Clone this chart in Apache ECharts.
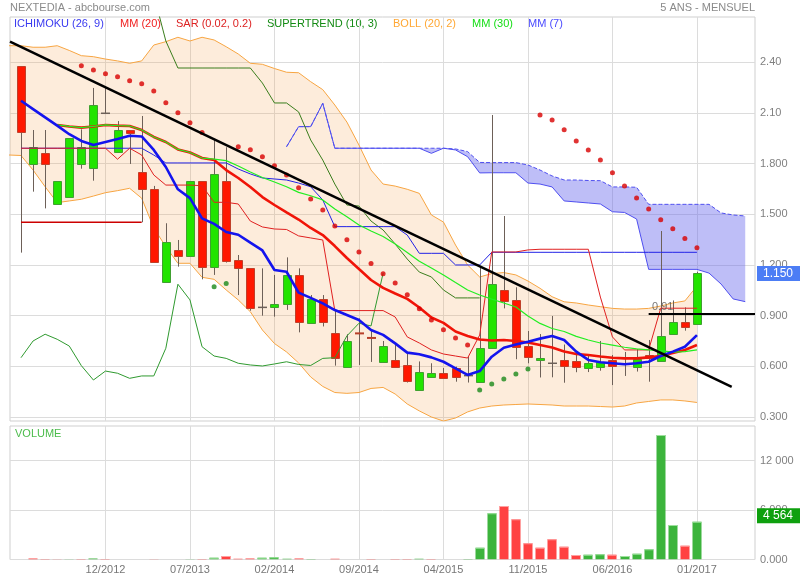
<!DOCTYPE html>
<html><head><meta charset="utf-8">
<script src="https://cdn.jsdelivr.net/npm/echarts@6/dist/echarts.min.js"></script>
<style>html,body{margin:0;padding:0;background:#fff}#c{width:800px;height:580px}</style>
</head><body><div id="c"></div><script>
// ---------------- DATA ----------------
const months = ['05/2012','06/2012','07/2012','08/2012','09/2012','10/2012','11/2012','12/2012',
'01/2013','02/2013','03/2013','04/2013','05/2013','06/2013','07/2013','08/2013','09/2013','10/2013','11/2013','12/2013',
'01/2014','02/2014','03/2014','04/2014','05/2014','06/2014','07/2014','08/2014','09/2014','10/2014','11/2014','12/2014',
'01/2015','02/2015','03/2015','04/2015','05/2015','06/2015','07/2015','08/2015','09/2015','10/2015','11/2015','12/2015',
'01/2016','02/2016','03/2016','04/2016','05/2016','06/2016','07/2016','08/2016','09/2016','10/2016','11/2016','12/2016',
'01/2017'];
const xTickLabels = ['12/2012','07/2013','02/2014','09/2014','04/2015','11/2015','06/2016','01/2017'];
const priceTicks = [0.3,0.6,0.9,1.2,1.5,1.8,2.1,2.4];
const priceTickLabels = ['0.300','0.600','0.900','1.200','1.500','1.800','2.10','2.40'];
const volTicks = [0,6000,12000];
const volTickLabels = ['0.000','6 000','12 000'];

const open = [2.378,1.796,1.861,1.559,1.601,1.796,1.776,2.098,1.867,1.999,
1.750,1.648,1.097,1.289,1.255,1.697,1.186,1.697,1.229,1.180,
0.949,0.949,0.969,1.139,0.858,0.997,0.797,0.598,0.795,0.768,
0.627,0.637,0.608,0.457,0.539,0.559,0.588,0.545,0.505,0.707,
1.052,0.993,0.720,0.636,0.618,0.637,0.632,0.588,0.598,0.637,
0.612,0.598,0.667,0.632,0.794,0.861,0.848];
const close = [1.985,1.897,1.796,1.695,1.950,1.897,2.147,2.098,1.999,1.983,
1.648,1.216,1.338,1.255,1.697,1.186,1.739,1.225,1.180,0.947,
0.949,0.969,1.139,0.861,0.997,0.864,0.648,0.750,0.791,0.764,
0.718,0.598,0.513,0.569,0.559,0.528,0.539,0.545,0.707,1.087,
0.988,0.716,0.657,0.649,0.618,0.604,0.598,0.618,0.627,0.604,
0.612,0.642,0.651,0.780,0.861,0.835,1.150];
const low = [1.273,1.634,1.535,1.559,1.601,1.770,1.699,2.098,1.867,1.798,
1.453,1.216,1.097,1.190,1.255,1.115,1.141,1.214,1.022,0.929,
0.900,0.894,0.934,0.801,0.851,0.836,0.604,0.598,0.608,0.626,
0.627,0.598,0.504,0.457,0.539,0.528,0.509,0.504,0.505,0.707,
0.943,0.642,0.618,0.534,0.535,0.503,0.565,0.566,0.574,0.489,
0.543,0.569,0.509,0.632,0.794,0.811,0.848];
const high = [2.378,1.999,1.999,1.695,1.950,2.003,2.248,2.248,2.052,1.999,
2.082,1.668,1.447,1.348,1.697,1.697,1.940,1.897,1.259,1.180,
1.180,1.141,1.245,1.180,1.022,1.022,0.934,0.790,0.884,0.815,
0.750,0.726,0.682,0.629,0.618,0.590,0.598,0.658,1.190,2.088,
1.490,1.068,0.809,0.791,0.898,0.729,0.667,0.661,0.750,0.667,
0.685,0.703,0.756,1.401,0.990,0.949,1.160];
const volume = [0,120,50,40,40,60,120,60,0,0,
0,40,0,0,40,60,200,420,80,120,
220,280,100,120,50,0,100,0,0,50,
0,50,60,100,60,0,0,50,1420,5600,
6480,4870,1960,1430,2450,1550,545,580,630,580,
420,700,1240,15090,4180,1670,4564];

const mm7 = [2.172,2.123,2.074,2.025,1.974,1.934,1.910,1.928,1.946,1.965,
1.961,1.881,1.780,1.648,1.596,1.476,1.443,1.395,1.379,1.332,
1.286,1.170,1.160,1.036,1.005,0.973,0.933,0.904,0.874,0.815,
0.786,0.736,0.681,0.671,0.653,0.627,0.588,0.549,0.572,0.657,
0.710,0.729,0.746,0.764,0.780,0.756,0.687,0.638,0.624,0.618,
0.612,0.618,0.627,0.661,0.687,0.716,0.785];
const mm20 = [null,null,null,2.029,2.020,2.013,2.020,2.029,2.025,2.023,
1.999,1.958,1.928,1.884,1.866,1.833,1.821,1.762,1.715,1.662,
1.602,1.555,1.511,1.469,1.419,1.377,1.312,1.241,1.176,1.111,
1.064,1.031,0.999,0.948,0.889,0.857,0.806,0.780,0.759,0.753,
0.756,0.750,0.741,0.726,0.711,0.688,0.673,0.667,0.658,0.651,
0.647,0.647,0.653,0.661,0.679,0.697,0.726];
const mm30 = [null,null,null,2.029,2.020,2.013,2.020,2.029,2.025,2.023,
1.999,1.958,1.928,1.884,1.866,1.833,1.827,1.818,1.786,1.750,
1.718,1.691,1.663,1.630,1.610,1.585,1.531,1.486,1.437,1.401,
1.369,1.324,1.274,1.222,1.182,1.141,1.096,1.052,1.022,0.998,
0.975,0.951,0.898,0.854,0.824,0.806,0.777,0.756,0.738,0.726,
0.713,0.703,0.697,0.693,0.684,0.687,0.697];
// Bollinger starts one month before the first candle (04/2012)
const bollFrom = -1;
const bollUpper = [2.498,2.498,2.489,2.489,2.498,2.470,2.439,2.433,2.419,2.408,2.394,
2.408,2.502,2.522,2.548,2.526,2.548,2.532,2.492,2.449,2.394,
2.388,2.363,2.341,2.338,2.285,2.238,2.147,2.046,1.910,1.762,
1.679,1.667,1.648,1.624,1.496,1.454,1.318,1.200,1.129,1.149,
1.155,1.141,1.105,1.062,1.012,0.982,0.975,0.963,0.953,0.943,
0.939,0.939,0.943,0.957,0.975,0.987,1.075];
const bollLower = [1.851,1.848,1.762,1.663,1.569,1.579,1.589,1.608,1.628,1.640,1.654,
1.595,1.419,1.308,1.210,1.210,1.127,1.115,1.052,0.993,0.923,
0.815,0.735,0.685,0.620,0.537,0.481,0.445,0.440,0.445,0.469,
0.475,0.436,0.377,0.336,0.300,0.276,0.294,0.330,0.353,0.365,
0.371,0.374,0.377,0.374,0.371,0.365,0.365,0.365,0.362,0.359,
0.365,0.383,0.392,0.401,0.401,0.395,0.386];
const sar = [null,null,null,null,null,2.380,2.354,2.332,2.315,2.291,
2.273,2.230,2.161,2.101,2.042,1.984,1.071,1.090,1.900,1.882,
1.841,1.788,1.733,1.657,1.591,1.525,1.431,1.350,1.277,1.208,
1.148,1.093,1.024,0.941,0.874,0.817,0.768,0.726,0.460,0.495,
0.525,0.555,0.584,2.088,2.058,2.001,1.934,1.881,1.821,1.746,
1.668,1.597,1.531,1.468,1.415,1.356,1.302];
const tenkan = [1.891,1.891,1.891,1.891,1.891,1.891,1.891,1.891,1.826,1.891,
1.851,1.733,1.673,1.673,1.673,1.669,1.571,1.571,1.561,1.460,
1.425,1.413,1.410,1.372,1.360,1.348,0.930,0.930,0.930,0.930,
0.930,0.892,0.774,0.738,0.697,0.673,0.661,0.649,0.785,1.277,
1.277,1.277,1.289,1.293,1.293,1.293,1.293,1.293,1.010,0.774,
0.697,0.697,0.697,0.944,0.944,0.944,0.944];
const kijun = [1.891,1.891,1.891,1.891,1.891,1.891,1.891,1.891,1.891,1.891,
1.891,1.851,1.804,1.804,1.804,1.804,1.804,1.804,1.768,1.739,
1.715,1.709,1.703,1.685,1.663,1.585,1.427,1.427,1.427,1.427,
1.427,1.427,1.377,1.269,1.269,1.269,1.200,1.200,1.200,1.275,
1.275,1.275,1.275,1.275,1.275,1.275,1.275,1.275,1.275,1.275,
1.275,1.275,1.275,1.275,1.275,1.275,1.275];
const chikou = [0.651,0.750,0.790,0.760,0.720,0.604,0.519,0.572,0.559,0.529,
0.543,0.543,0.707,1.086,0.993,0.716,0.661,0.647,0.618,0.608,
0.602,0.614,0.627,0.611,0.605,0.647,0.651,0.780,0.855,0.839,
1.151];
const cloudFrom = 22;
const senkouA = [1.900,2.019,2.019,2.157,1.891,1.891,1.891,1.891,1.891,1.891,
1.891,1.891,1.891,1.891,1.887,1.871,1.807,1.806,1.806,1.806,
1.792,1.762,1.727,1.703,1.703,1.700,1.699,1.662,1.662,1.660,
1.559,1.559,1.559,1.559,1.559,1.559,1.508,1.496,1.490];
const senkouB = [1.900,2.019,2.019,2.157,1.891,1.891,1.891,1.891,1.891,1.891,
1.891,1.891,1.861,1.891,1.881,1.841,1.745,1.746,1.746,1.746,
1.685,1.679,1.662,1.579,1.573,1.567,1.561,1.515,1.511,1.472,
1.174,1.174,1.174,1.174,1.174,1.152,1.087,0.999,0.983];
const superFrom = 11;
const supertrend = [2.800,2.526,2.366,2.366,2.366,2.366,2.366,2.366,2.366,2.277,
2.159,2.159,2.106,1.940,1.821,1.679,1.555,1.549,1.460,1.407,
1.324,1.235,1.158,1.129,1.052,1.005,1.005,1.005];
const superUpFrom = 0;
const superUp = [1.453,1.453,1.453,1.453,1.453,1.453,1.453,1.453,1.453,1.453,1.453];
const trendX = [-0.911, 58.88];
const trendY = [2.522, 0.479];
const supportLevel = 0.91;
const supportFrom = '09/2016';
const lastPriceLabel = '1.150';
const lastVolumeLabel = '4 564';

// ---------------- CHART ----------------
const FONT = '"Liberation Sans", Arial, sans-serif';
const xMin = -0.911, xMax = 60.81;
const xTickIdx = xTickLabels.map(m => months.indexOf(m));
const pairs = (arr, from) => arr.map((v, k) => [from + k, v]).filter(p => p[1] != null);
const lastIdx = close.length - 1;

const chart = echarts.init(document.getElementById('c'), null, {renderer: 'canvas', width: 800, height: 580});

const candleData = open.map((o, i) => [i, o, close[i], low[i], high[i]]);
const volData = volume.map((v, i) => [i, v, (i === 0 ? close[0] >= open[0] : close[i] >= close[i - 1]) ? 1 : 0]);
const sarData = sar.map((v, i) => v == null ? null : {value: [i, v], itemStyle: {color: v > close[i] ? '#d80000' : '#1a8a1a'}}).filter(Boolean);

function lineSeries(name, data, color, width, z, extra) {
  return Object.assign({type: 'line', name, data, showSymbol: false, symbol: 'none', silent: true, z: z,
    lineStyle: {color, width}, animation: false, xAxisIndex: 0, yAxisIndex: 0}, extra || {});
}

const option = {
  animation: false,
  backgroundColor: '#fff',
  textStyle: {fontFamily: FONT},
  grid: [
    {left: 10, top: 17, width: 745, height: 404, show: true, borderColor: '#cfcfcf', borderWidth: 1, outerBoundsMode: 'none'},
    {left: 10, top: 426, width: 745, height: 133.5, show: true, borderColor: '#cfcfcf', borderWidth: 1, outerBoundsMode: 'none'}
  ],
  xAxis: [
    {type: 'value', gridIndex: 0, min: xMin, max: xMax, axisLine: {show: false},
     axisTick: {show: false, customValues: xTickIdx}, axisLabel: {show: false, customValues: xTickIdx},
     splitLine: {show: true, lineStyle: {color: '#dcdcdc', width: 1}}},
    {type: 'value', gridIndex: 1, min: xMin, max: xMax, axisLine: {show: false},
     axisTick: {show: false, customValues: xTickIdx},
     axisLabel: {show: true, customValues: xTickIdx, color: '#777', fontSize: 11, fontFamily: FONT, margin: 5,
       formatter: v => months[Math.round(v)] || ''},
     splitLine: {show: true, lineStyle: {color: '#dcdcdc', width: 1}}}
  ],
  yAxis: [
    {type: 'value', gridIndex: 0, position: 'right', min: 0.2763, max: 2.668, scale: true,
     axisLine: {show: false}, axisTick: {show: false, customValues: priceTicks},
     axisLabel: {show: true, customValues: priceTicks, color: '#808080', fontSize: 11, fontFamily: FONT, margin: 5,
       formatter: v => { const k = priceTicks.findIndex(t => Math.abs(t - v) < 1e-6); return k >= 0 ? priceTickLabels[k] : ''; }},
     splitLine: {show: true, lineStyle: {color: '#dcdcdc', width: 1}}},
    {type: 'value', gridIndex: 1, position: 'right', min: 0, max: 16180,
     axisLine: {show: false}, axisTick: {show: false, customValues: volTicks},
     axisLabel: {show: true, customValues: volTicks, color: '#808080', fontSize: 11, fontFamily: FONT, margin: 5,
       formatter: v => { const k = volTicks.findIndex(t => Math.abs(t - v) < 1e-6); return k >= 0 ? volTickLabels[k] : ''; }},
     splitLine: {show: true, lineStyle: {color: '#dcdcdc', width: 1}}}
  ],
  graphic: [
    {type: 'text', left: 10, top: 2, style: {text: 'NEXTEDIA - abcbourse.com', fill: '#8a8a8a', font: '11px ' + FONT}},
    {type: 'text', right: 45, top: 2, style: {text: '5 ANS - MENSUEL', fill: '#8a8a8a', font: '11px ' + FONT}},
    {type: 'text', left: 14, top: 18, style: {text: 'ICHIMOKU (26, 9)', fill: '#3a3af0', font: '11px ' + FONT}},
    {type: 'text', left: 120, top: 18, style: {text: 'MM (20)', fill: '#f02020', font: '11px ' + FONT}},
    {type: 'text', left: 176, top: 18, style: {text: 'SAR (0.02, 0.2)', fill: '#dd2222', font: '11px ' + FONT}},
    {type: 'text', left: 267, top: 18, style: {text: 'SUPERTREND (10, 3)', fill: '#138a13', font: '11px ' + FONT}},
    {type: 'text', left: 393, top: 18, style: {text: 'BOLL (20, 2)', fill: '#ffa733', font: '11px ' + FONT}},
    {type: 'text', left: 472, top: 18, style: {text: 'MM (30)', fill: '#14dd14', font: '11px ' + FONT}},
    {type: 'text', left: 528, top: 18, style: {text: 'MM (7)', fill: '#4a4aff', font: '11px ' + FONT}},
    {type: 'text', left: 15, top: 428, style: {text: 'VOLUME', fill: '#4cbc4c', font: '11px ' + FONT}}
  ],
  series: [
    // Bollinger band fill
    {type: 'custom', name: 'bollFill', xAxisIndex: 0, yAxisIndex: 0, clip: true, silent: true, z: 1,
     data: [[bollFrom, bollUpper[0]]],
     renderItem: (params, api) => {
       if (params.dataIndex !== 0) return null;
       const pts = [];
       bollUpper.forEach((v, k) => pts.push(api.coord([bollFrom + k, v])));
       for (let k = bollLower.length - 1; k >= 0; k--) pts.push(api.coord([bollFrom + k, bollLower[k]]));
       return {type: 'polygon', shape: {points: pts}, style: {fill: 'rgba(245,168,90,0.22)'}};
     }},
    // Ichimoku cloud fill
    {type: 'custom', name: 'cloudFill', xAxisIndex: 0, yAxisIndex: 0, clip: true, silent: true, z: 1,
     data: [[cloudFrom, senkouA[0]]],
     renderItem: (params, api) => {
       if (params.dataIndex !== 0) return null;
       const pts = [];
       senkouA.forEach((v, k) => pts.push(api.coord([cloudFrom + k, v])));
       for (let k = senkouB.length - 1; k >= 0; k--) pts.push(api.coord([cloudFrom + k, senkouB[k]]));
       return {type: 'polygon', shape: {points: pts}, style: {fill: 'rgba(100,100,236,0.42)'}};
     }},
    lineSeries('bollUpper', pairs(bollUpper, bollFrom), '#f7a542', 1, 2),
    lineSeries('bollLower', pairs(bollLower, bollFrom), '#f7a542', 1, 2),
    lineSeries('senkouB', pairs(senkouB, cloudFrom), '#4f4ff0', 1, 2),
    lineSeries('senkouA', pairs(senkouA, cloudFrom), '#4f4ff0', 1, 2, {lineStyle: {color: '#4f4ff0', width: 1, type: [4, 2]}}),
    // candles
    {type: 'custom', name: 'candles', xAxisIndex: 0, yAxisIndex: 0, clip: true, silent: true, z: 3,
     encode: {x: 0, y: [1, 2, 3, 4]},
     data: candleData,
     renderItem: (params, api) => {
       const x = api.value(0), o = api.value(1), c = api.value(2), lo = api.value(3), hi = api.value(4);
       const pO = api.coord([x, o]), pC = api.coord([x, c]), pL = api.coord([x, lo]), pH = api.coord([x, hi]);
       const cx = Math.round(pO[0]) + 0.5;
       const up = c >= o;
       const top = Math.min(pO[1], pC[1]), bot = Math.max(pO[1], pC[1]);
       const ch = [{type: 'line', shape: {x1: cx, y1: pH[1], x2: cx, y2: pL[1]}, style: {stroke: '#6d6058', lineWidth: 1}}];
       if (o === c) {
         ch.push({type: 'line', shape: {x1: cx - 4.5, y1: top, x2: cx + 4.5, y2: top}, style: {stroke: '#6d6058', lineWidth: 1.5}});
       } else if (bot - top < 1.8) {
         ch.push({type: 'line', shape: {x1: cx - 4.5, y1: top, x2: cx + 4.5, y2: top}, style: {stroke: up ? '#3c9c28' : '#b8402a', lineWidth: 2}});
       } else {
         const t = Math.round(top) + 0.5, b = Math.round(bot) + 0.5;
         ch.push({type: 'rect', shape: {x: cx - 4, y: t, width: 8, height: b - t},
           style: {fill: up ? '#22e400' : '#ff1800', stroke: up ? '#40a030' : '#c0402a', lineWidth: 1}});
       }
       return {type: 'group', children: ch};
     }},
    lineSeries('chikou', pairs(chikou, 0), '#2f9a2f', 1, 4),
    lineSeries('supertrend', pairs(supertrend, superFrom), '#3a7d1c', 1, 4),
    lineSeries('supertrendUp', pairs(superUp, superUpFrom), '#cc0000', 1.4, 4),
    lineSeries('kijun', pairs(kijun, 0), '#2222e6', 1, 4),
    lineSeries('tenkan', pairs(tenkan, 0), '#e02020', 1, 4),
    lineSeries('mm20', pairs(mm20, 0), '#f01408', 2.6, 5),
    lineSeries('mm30', pairs(mm30, 0), '#22ee22', 1.2, 5),
    lineSeries('mm7', pairs(mm7, 0), '#1414ee', 2.6, 6),
    {type: 'scatter', name: 'sar', xAxisIndex: 0, yAxisIndex: 0, symbolSize: 5, silent: true, z: 7, data: sarData},
    lineSeries('trend', trendX.map((x, k) => [x, trendY[k]]), '#000', 2.5, 8),
    lineSeries('support', [[months.indexOf(supportFrom), supportLevel], [xMax, supportLevel]], '#000', 2, 8),
    {type: 'scatter', name: 'supportLabel', xAxisIndex: 0, yAxisIndex: 0, symbolSize: 0, silent: true, z: 9,
     data: [[months.indexOf(supportFrom), supportLevel]],
     label: {show: true, position: 'top', distance: 1, offset: [14, 0], formatter: supportLevel.toFixed(2), color: '#555', fontSize: 11, fontFamily: FONT}},
    // volume
    {type: 'custom', name: 'volume', xAxisIndex: 1, yAxisIndex: 1, clip: true, silent: true, z: 3,
     encode: {x: 0, y: 1},
     data: volData,
     renderItem: (params, api) => {
       const x = api.value(0), v = api.value(1), up = api.value(2) === 1;
       if (!v) return null;
       const p0 = api.coord([x, 0]), p1 = api.coord([x, v]);
       const cx = Math.round(p0[0]);
       const w = 9;
       const h = p0[1] - p1[1];
       const ch = [{type: 'rect', shape: {x: cx - 4.5, y: p1[1], width: w, height: h}, style: {fill: up ? '#3cb43c' : '#ff4242'}}];
       if (h > 1.5) ch.push({type: 'rect', shape: {x: cx - 4.5, y: p1[1], width: w, height: 1}, style: {fill: up ? '#9ee09e' : '#ffa0a0'}});
       return {type: 'group', children: ch};
     }}
  ]
};
chart.setOption(option);

// value tags on the right axis, positioned through the chart's own scales
function tag(gridIdx, yValue, text, bg, dy) {
  const p = chart.convertToPixel({xAxisIndex: gridIdx, yAxisIndex: gridIdx}, [xMax, yValue]);
  return {type: 'text', x: p[0] + 2, y: p[1] + dy, z: 100,
    style: {text, fill: '#fff', backgroundColor: bg, padding: [2, 7, 1, 6], font: '12px ' + FONT, verticalAlign: 'middle', align: 'left'}};
}
chart.setOption({graphic: option.graphic.concat([
  tag(0, close[lastIdx], lastPriceLabel, '#4c7df5', 0),
  tag(1, volume[lastIdx], lastVolumeLabel, '#0ea00e', -6)
])});
</script></body></html>
